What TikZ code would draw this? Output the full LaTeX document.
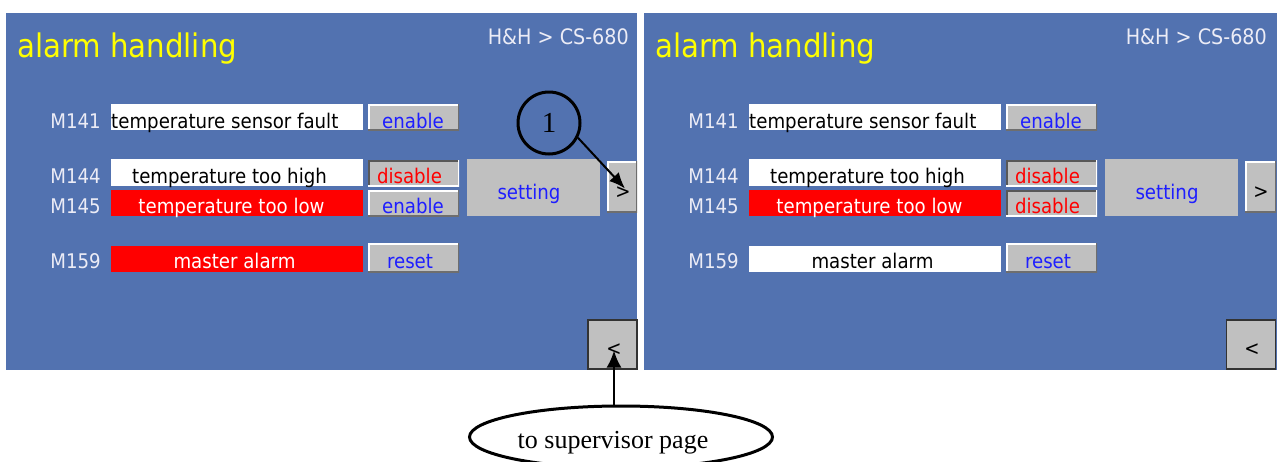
\documentclass[tikz,border=0pt]{standalone}
\usepackage{fontspec}
\setmainfont{Liberation Serif}
\setsansfont{DejaVu Sans Condensed}
\usetikzlibrary{arrows.meta,shapes.geometric}
\definecolor{panelblue}{RGB}{82,114,176}
\definecolor{btngray}{RGB}{192,192,192}
\definecolor{uiblue}{RGB}{30,30,255}
\definecolor{uired}{RGB}{255,0,0}
\definecolor{titleyellow}{RGB}{255,255,0}
\definecolor{labelwhite}{RGB}{236,236,246}
\definecolor{btnshadow}{RGB}{110,110,110}
\newcommand\hmibevel[2]{%
  \draw[#1, line width=3pt] (path picture bounding box.south west) -- (path picture bounding box.north west) -- (path picture bounding box.north east);
  \draw[#2, line width=3pt] (path picture bounding box.north east) -- (path picture bounding box.south east) -- (path picture bounding box.south west);}
\tikzset{
  ui/.style={font=\sffamily\fontsize{20.2}{24}\selectfont, inner sep=0pt},
  titletext/.style={font=\sffamily\fontsize{32.5}{38}\selectfont, inner sep=0pt, text=titleyellow, anchor=base west},
  mlabel/.style={ui, text=labelwhite, anchor=base east},
  fieldtext/.style={ui, anchor=base},
  btntext/.style={ui, anchor=base},
  field/.style={rectangle, inner sep=0pt, minimum width=252pt, minimum height=26pt},
  btnbase/.style={rectangle, inner sep=0pt, fill=btngray, minimum width=91pt, minimum height=26pt},
  raised/.style={btnbase, path picture={\hmibevel{white}{btnshadow}}},
  sunken/.style={btnbase, path picture={\hmibevel{btnshadow!80!black}{white}}},
  flatbtn/.style={rectangle, inner sep=0pt, fill=btngray},
  backbtn/.style={rectangle, inner sep=0pt, fill=btngray, draw=black!80, line width=1.6pt, minimum width=49pt, minimum height=49pt},
  callout/.style={circle, draw=black, line width=3pt, minimum size=62pt, inner sep=0pt, font=\fontsize{29}{31}\selectfont},
  note/.style={ellipse, draw=black, line width=3pt, fill=white, minimum width=303pt, minimum height=62pt},
  arr/.style={line width=2pt, -{Latex[length=16pt,width=13pt]}}
}
\begin{document}
\begin{tikzpicture}[x=1pt,y=-1pt]
\clip (0,0) rectangle (1277,461);
\fill[white] (0,0) rectangle (1277,461);

% ---------------- left panel ----------------
\fill[panelblue] (6,13) rectangle (637,370);
\node[titletext] (Ltitle) at (17,57.5) {alarm handling};
\node[ui, font=\sffamily\fontsize{21.3}{24}\selectfont, text=labelwhite, anchor=base east] (Lhh) at (629,44) {H\&H > CS-680};

\node[mlabel] (Lm141) at (101,128) {M141};
\node[mlabel] (Lm144) at (101,183) {M144};
\node[mlabel] (Lm145) at (101,213) {M145};
\node[mlabel] (Lm159) at (101,268) {M159};

\node[field, fill=white] (Lf1) at (237,117) {};
\node[field, fill=white, minimum height=27pt] (Lf2) at (237,172.5) {};
\node[field, fill=uired] (Lf3) at (237,203) {};
\node[field, fill=uired] (Lf4) at (237,259) {};
\node[ui, anchor=base west, text=black] (Lt1) at (111,128) {temperature sensor fault};
\node[fieldtext, text=black] (Lt2) at (229.5,183) {temperature too high};
\node[fieldtext, text=white] (Lt3) at (231.5,213) {temperature too low};
\node[fieldtext, text=white] (Lt4) at (234.5,268) {master alarm};

\node[raised] (Lb1) at (413.5,117) {};
\node[sunken] (Lb2) at (413.5,173) {};
\node[raised] (Lb3) at (413.5,203) {};
\node[raised, minimum height=29pt] (Lb4) at (413.5,257.5) {};
\node[btntext, text=uiblue] (Lbt1) at (413,128) {enable};
\node[btntext, text=uired] (Lbt2) at (409.5,183) {disable};
\node[btntext, text=uiblue] (Lbt3) at (413,213) {enable};
\node[btntext, text=uiblue] (Lbt4) at (410,268) {reset};

\node[flatbtn, minimum width=133pt, minimum height=57pt] (Lset) at (533.5,187.5) {};
\node[btntext, text=uiblue] (Lsett) at (529,199) {setting};
\node[raised, minimum width=30pt, minimum height=51pt] (Lnext) at (622,186.5) {};
\node[btntext, text=black] (Lnextt) at (623,198) {>};
\node[backbtn] (Lback) at (612.5,344.5) {};
\node[btntext, text=black] (Lbackt) at (614,355) {<};

% ---------------- right panel ----------------
\begin{scope}[xshift=638pt]
\fill[panelblue] (6,13) rectangle (639,370);
\node[titletext] (Rtitle) at (17,57.5) {alarm handling};
\node[ui, font=\sffamily\fontsize{21.3}{24}\selectfont, text=labelwhite, anchor=base east] (Rhh) at (629,44) {H\&H > CS-680};

\node[mlabel] (Rm141) at (101,128) {M141};
\node[mlabel] (Rm144) at (101,183) {M144};
\node[mlabel] (Rm145) at (101,213) {M145};
\node[mlabel] (Rm159) at (101,268) {M159};

\node[field, fill=white] (Rf1) at (237,117) {};
\node[field, fill=white, minimum height=27pt] (Rf2) at (237,172.5) {};
\node[field, fill=uired] (Rf3) at (237,203) {};
\node[field, fill=white] (Rf4) at (237,259) {};
\node[ui, anchor=base west, text=black] (Rt1) at (111,128) {temperature sensor fault};
\node[fieldtext, text=black] (Rt2) at (229.5,183) {temperature too high};
\node[fieldtext, text=white] (Rt3) at (231.5,213) {temperature too low};
\node[fieldtext, text=black] (Rt4) at (234.5,268) {master alarm};

\node[raised] (Rb1) at (413.5,117) {};
\node[sunken] (Rb2) at (413.5,173) {};
\node[sunken] (Rb3) at (413.5,203) {};
\node[raised, minimum height=29pt] (Rb4) at (413.5,257.5) {};
\node[btntext, text=uiblue] (Rbt1) at (413,128) {enable};
\node[btntext, text=uired] (Rbt2) at (409.5,183) {disable};
\node[btntext, text=uired] (Rbt3) at (409.5,213) {disable};
\node[btntext, text=uiblue] (Rbt4) at (410,268) {reset};

\node[flatbtn, minimum width=133pt, minimum height=57pt] (Rset) at (533.5,187.5) {};
\node[btntext, text=uiblue] (Rsett) at (529,199) {setting};
\node[raised, minimum width=31pt, minimum height=51pt] (Rnext) at (622.5,186.5) {};
\node[btntext, text=black] (Rnextt) at (623,198) {>};
\node[backbtn] (Rback) at (613,344.5) {};
\node[btntext, text=black] (Rbackt) at (614,355) {<};
\end{scope}

% ---------------- annotations ----------------
\node[callout] (c1) at (549,123) {1};
\draw[arr] (c1.-27) -- ([xshift=3pt,yshift=-2pt]Lnext.center);

\node[note] (sup) at (621,437) {};
\node[anchor=base, inner sep=0pt, font=\fontsize{26}{28}\selectfont] (supt) at (613,448) {to supervisor page};
\draw[arr, line width=2.4pt, -{Latex[length=17pt,width=15pt]}] (sup.north -| Lbackt.base) -- ([yshift=-6pt]Lback.center -| Lbackt.base);
\end{tikzpicture}
\end{document}
